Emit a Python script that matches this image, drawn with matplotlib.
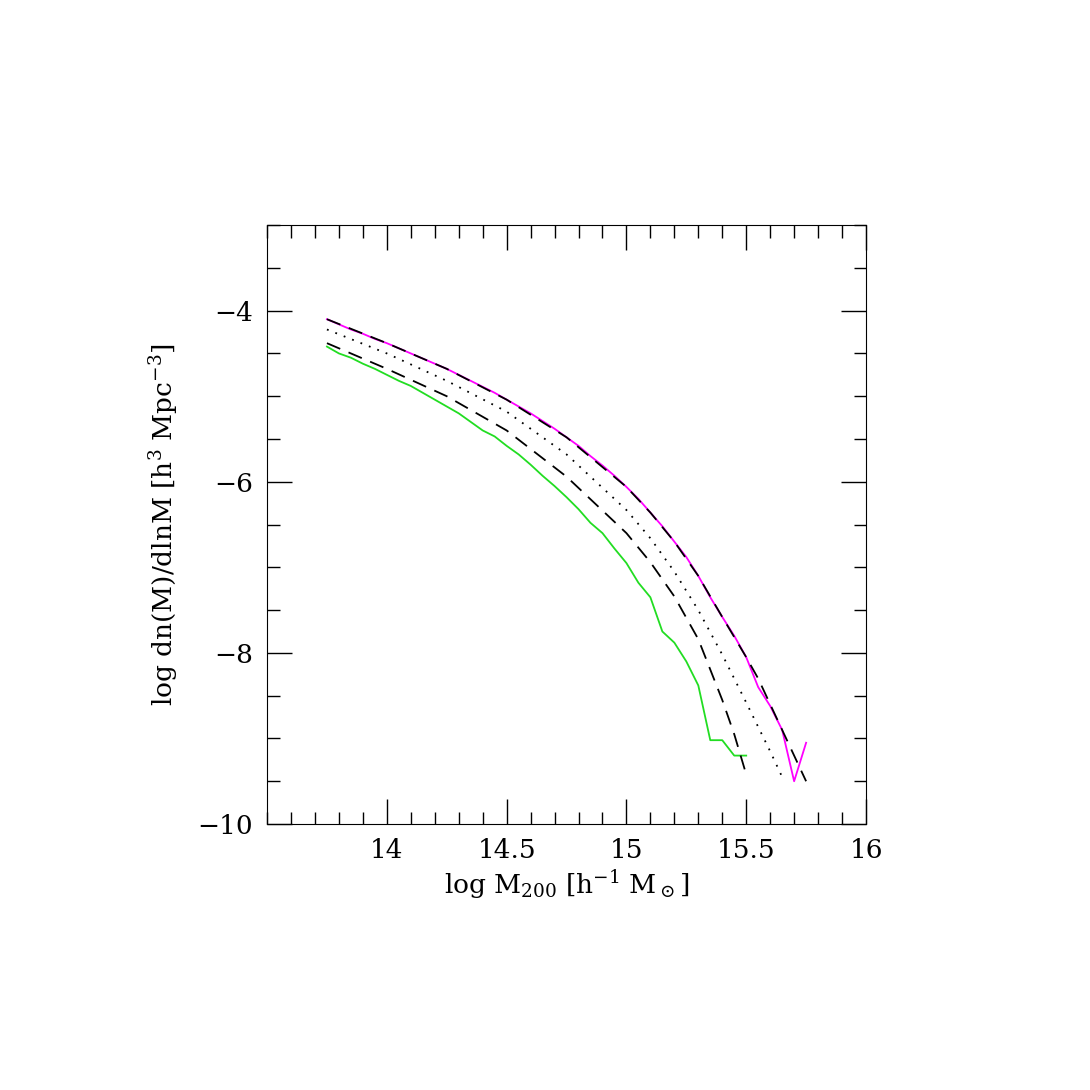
import matplotlib
matplotlib.use('Agg')
import matplotlib.pyplot as plt
from matplotlib.ticker import MultipleLocator

plt.rcParams['font.family'] = 'DejaVu Serif'
plt.rcParams['mathtext.fontset'] = 'dejavuserif'

# simulation (magenta) and (green), 0.05 dex bins
sim_x = [13.75 + 0.05 * i for i in range(41)]
magenta_y = [-4.10, -4.16, -4.22, -4.27, -4.33, -4.38, -4.44, -4.50, -4.56, -4.62,
             -4.68, -4.75, -4.82, -4.89, -4.96, -5.04, -5.12, -5.20, -5.29, -5.38,
             -5.48, -5.58, -5.70, -5.81, -5.93, -6.06, -6.20, -6.36, -6.52, -6.70,
             -6.88, -7.10, -7.35, -7.58, -7.80, -8.05, -8.40, -8.62, -8.90, -9.50, -9.05]
green_x = sim_x[:36]
green_y = [-4.42, -4.50, -4.55, -4.62, -4.68, -4.75, -4.82, -4.88, -4.96, -5.04,
           -5.12, -5.20, -5.30, -5.40, -5.47, -5.58, -5.68, -5.80, -5.93, -6.05,
           -6.18, -6.32, -6.48, -6.60, -6.78, -6.95, -7.18, -7.35, -7.75, -7.88,
           -8.10, -8.38, -9.02, -9.02, -9.20, -9.20]

# model curves
up_x = [13.75, 14.0, 14.25, 14.5, 14.75, 15.0, 15.1, 15.2, 15.3, 15.4, 15.5, 15.55, 15.6, 15.65, 15.7, 15.75]
up_y = [-4.10, -4.38, -4.68, -5.04, -5.48, -6.06, -6.36, -6.70, -7.10, -7.58, -8.05, -8.30, -8.60, -8.90, -9.20, -9.50]
dot_x = [13.75, 14.0, 14.25, 14.5, 14.75, 15.0, 15.1, 15.2, 15.3, 15.4, 15.5, 15.6, 15.65]
dot_y = [-4.22, -4.50, -4.82, -5.18, -5.68, -6.33, -6.66, -7.05, -7.50, -8.02, -8.58, -9.15, -9.45]
lo_x = [13.75, 14.0, 14.25, 14.5, 14.75, 15.0, 15.1, 15.2, 15.3, 15.4, 15.45, 15.5]
lo_y = [-4.38, -4.68, -5.00, -5.40, -5.94, -6.60, -6.94, -7.34, -7.84, -8.55, -8.95, -9.42]

fig = plt.figure(figsize=(10.9, 10.9), dpi=100)
ax = fig.add_axes([0.245, 0.244, 0.5495, 0.5495])

ax.plot(sim_x, magenta_y, color='magenta', lw=1.3)
ax.plot(green_x, green_y, color='#22dd22', lw=1.3)
ax.plot(up_x, up_y, color='black', ls=(0, (8, 5)), lw=1.3)
ax.plot(dot_x, dot_y, color='black', ls=(0, (1, 4)), lw=1.3)
ax.plot(lo_x, lo_y, color='black', ls=(0, (8, 5)), lw=1.3)

ax.set_xlim(13.5, 16)
ax.set_ylim(-10, -3)
ax.xaxis.set_minor_locator(MultipleLocator(0.1))
ax.yaxis.set_minor_locator(MultipleLocator(0.5))
ax.set_xticks([14, 14.5, 15, 15.5, 16])
ax.set_xticklabels(['14', '14.5', '15', '15.5', '16'])
ax.set_yticks([-10, -8, -6, -4])
ax.set_yticklabels(['\u221210', '\u22128', '\u22126', '\u22124'])
ax.tick_params(which='both', direction='in', top=True, right=True, labelsize=19, pad=10)
ax.tick_params(which='major', length=18, width=1)
ax.tick_params(which='minor', length=9, width=1)

ax.set_xlabel(r'log M$_{200}$ [h$^{-1}$ M$_\odot$]', fontsize=19)
ax.set_ylabel(r'log dn(M)/dlnM [h$^3$ Mpc$^{-3}$]', fontsize=19, labelpad=12)

fig.savefig('out.png', dpi=100)
